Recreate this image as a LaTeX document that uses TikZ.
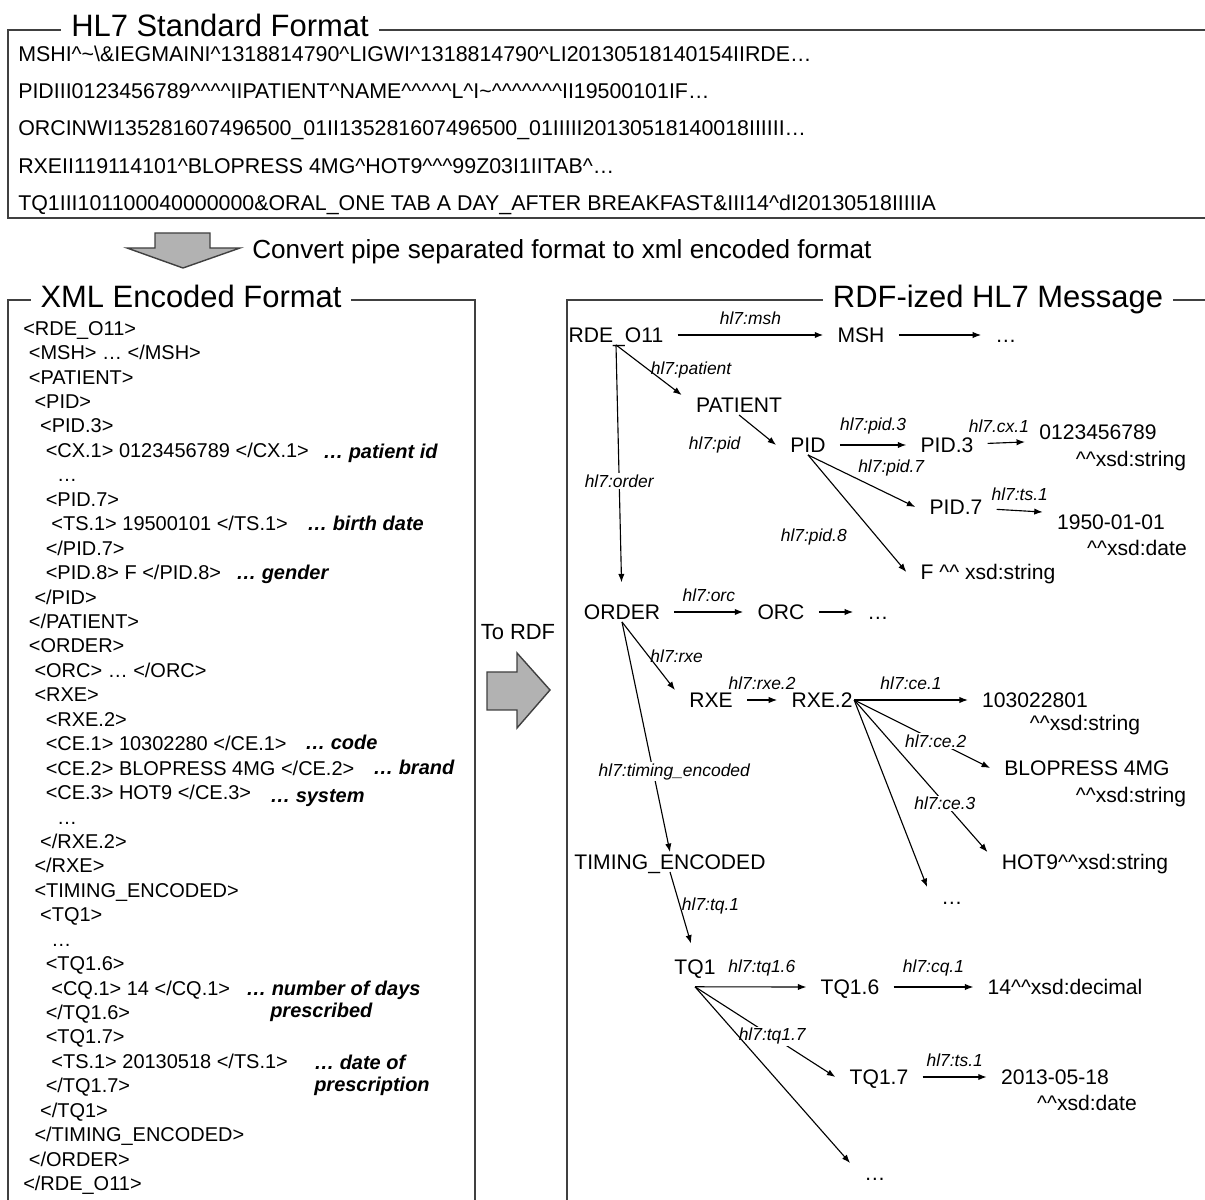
\documentclass[tikz,border=0pt]{standalone}
\usepackage{fontspec}
\setmainfont{Liberation Sans}
\usepackage{tikz}
\usetikzlibrary{arrows.meta}
\newcommand{\crt}{\textasciicircum}
\newlength{\xmlstep}
\setlength{\xmlstep}{4pt}

\begin{document}
\begin{tikzpicture}[x=0.025cm, y=-0.025cm,
  frame/.style={draw=black!75, line width=1.3pt},
  boxtitle/.style={fill=white, inner xsep=7pt, inner ysep=3pt,
                   text height=20.8pt, text depth=5pt,
                   font=\fontsize{22}{26}\selectfont},
  msgline/.style={anchor=base west, inner sep=0pt, font=\fontsize{15.2}{18}\selectfont},
  xmltext/.style={anchor=north west, inner sep=0pt, align=left,
                  font=\fontsize{14.2}{17.38}\selectfont},
  annot/.style={anchor=base west, inner sep=0pt,
                font=\fontsize{14.2}{17}\selectfont\bfseries\itshape},
  rdf/.style={inner xsep=10pt, inner ysep=1.5pt, text height=10.75pt, text depth=0pt,
              font=\fontsize{15}{17}\selectfont},
  lbl/.style={inner sep=1pt, font=\fontsize{12.4}{14}\selectfont\itshape},
  cut/.style={lbl, fill=white},
  arr/.style={-{Latex[length=6pt, width=4.5pt]}, line width=0.8pt},
  bigarr/.style={draw=black!75, fill=black!30, line width=1pt, line join=miter}
]
\useasboundingbox (0,0) rectangle (1205,1200);

% HL7 message
\draw[frame] (1205,30) -- (8,30) -- (8,218) -- (1205,218);
\node[boxtitle] (hltitle) at (220,25) {HL7 Standard Format};
\node[msgline] (msgmsh) at (18,62) {MSHI\crt\textasciitilde\textbackslash\&IEGMAINI\crt 1318814790\crt LIGWI\crt 1318814790\crt LI20130518140154IIRDE…};
\node[msgline] (msgpid) at (18,99) {PIDIII0123456789\crt\crt\crt\crt IIPATIENT\crt NAME\crt\crt\crt\crt\crt L\crt I\textasciitilde\crt\crt\crt\crt\crt\crt\crt II19500101IF…};
\node[msgline] (msgorc) at (18,136) {ORCINWI135281607496500\_01II135281607496500\_01IIIII20130518140018IIIIII…};
\node[msgline] (msgrxe) at (18,174) {RXEII119114101\crt BLOPRESS 4MG\crt HOT9\crt\crt\crt 99Z03I1IITAB\crt…};
\node[msgline] (msgtq) at (18,211) {TQ1III101100040000000\&ORAL\_ONE TAB A DAY\_AFTER BREAKFAST\&III14\crt dI20130518IIIIIA};

% pipe -> xml
\draw[bigarr] (155,233) -- (210,233) -- (210,248) -- (240,248) -- (183,268) -- (127,248) -- (155,248) -- cycle;
\node[anchor=base west, inner sep=0pt, font=\fontsize{18.6}{22}\selectfont] (convert) at (252,258.5) {Convert pipe separated format to xml encoded format};

% XML box
\draw[frame] (8,1200) -- (8,300) -- (475,300) -- (475,1200);
\node[boxtitle] (xmltitle) at (191,296) {XML Encoded Format};
\node[xmltext] (xml) at (23,321) {<RDE\_O11>\\
\hspace*{1\xmlstep}<MSH> … </MSH>\\
\hspace*{1\xmlstep}<PATIENT>\\
\hspace*{2\xmlstep}<PID>\\
\hspace*{3\xmlstep}<PID.3>\\
\hspace*{4\xmlstep}<CX.1> 0123456789 </CX.1>\\
\hspace*{6\xmlstep}…\\
\hspace*{4\xmlstep}<PID.7>\\
\hspace*{5\xmlstep}<TS.1> 19500101 </TS.1>\\
\hspace*{4\xmlstep}</PID.7>\\
\hspace*{4\xmlstep}<PID.8> F </PID.8>\\
\hspace*{2\xmlstep}</PID>\\
\hspace*{1\xmlstep}</PATIENT>\\
\hspace*{1\xmlstep}<ORDER>\\
\hspace*{2\xmlstep}<ORC> … </ORC>\\
\hspace*{2\xmlstep}<RXE>\\
\hspace*{4\xmlstep}<RXE.2>\\
\hspace*{4\xmlstep}<CE.1> 10302280 </CE.1>\\
\hspace*{4\xmlstep}<CE.2> BLOPRESS 4MG </CE.2>\\
\hspace*{4\xmlstep}<CE.3> HOT9 </CE.3>\\
\hspace*{6\xmlstep}…\\
\hspace*{3\xmlstep}</RXE.2>\\
\hspace*{2\xmlstep}</RXE>\\
\hspace*{2\xmlstep}<TIMING\_ENCODED>\\
\hspace*{3\xmlstep}<TQ1>\\
\hspace*{5\xmlstep}…\\
\hspace*{4\xmlstep}<TQ1.6>\\
\hspace*{5\xmlstep}<CQ.1> 14 </CQ.1>\\
\hspace*{4\xmlstep}</TQ1.6>\\
\hspace*{4\xmlstep}<TQ1.7>\\
\hspace*{5\xmlstep}<TS.1> 20130518 </TS.1>\\
\hspace*{4\xmlstep}</TQ1.7>\\
\hspace*{3\xmlstep}</TQ1>\\
\hspace*{2\xmlstep}</TIMING\_ENCODED>\\
\hspace*{1\xmlstep}</ORDER>\\
</RDE\_O11>};
\node[annot] (apid) at (323,459) {… patient id};
\node[annot] (abirth) at (307,531) {… birth date};
\node[annot] (agender) at (236,580) {… gender};
\node[annot] (acode) at (305,749) {… code};
\node[annot] (abrand) at (373,774) {… brand};
\node[annot] (asystem) at (270,802) {… system};
\node[annot] (adays) at (246,995) {… number of days};
\node[annot] (adaysb) at (270,1017) {prescribed};
\node[annot] (adate) at (314,1069) {… date of};
\node[annot] (adateb) at (314,1091) {prescription};

% xml -> rdf
\node[inner sep=0pt, font=\fontsize{15.6}{18}\selectfont] (tordf) at (518,632) {To RDF};
\draw[bigarr] (487,672) -- (517,672) -- (517,653) -- (550,690) -- (517,728) -- (517,710) -- (487,710) -- cycle;

% RDF box
\draw[frame] (567,1200) -- (567,300) -- (1205,300);
\node[boxtitle] (rdftitle) at (998,296) {RDF-ized HL7 Message};

\node[rdf] (rde) at (616,335) {RDE\_O11};
\node[rdf] (msh) at (861,335) {MSH};
\node[rdf] (mshmore) at (1006,335) {…};
\node[rdf] (patient) at (739,405) {PATIENT};
\node[rdf] (pid) at (808,445) {PID};
\node[rdf] (pidthree) at (947,445) {PID.3};
\node[rdf] (cx) at (1098,432) {0123456789};
\node[rdf] (cxtype) at (1131,459) {\crt\crt xsd:string};
\node[rdf] (pidseven) at (956,507) {PID.7};
\node[rdf] (bdate) at (1111,522) {1950-01-01};
\node[rdf] (bdatetype) at (1137,548) {\crt\crt xsd:date};
\node[rdf] (gender) at (988,572) {F \crt\crt\ xsd:string};
\node[rdf] (order) at (622,612) {ORDER};
\node[rdf] (orc) at (781,612) {ORC};
\node[rdf] (orcmore) at (878,612) {…};
\node[rdf] (rxe) at (711,700) {RXE};
\node[rdf] (rxetwo) at (822,700) {RXE.2};
\node[rdf] (code) at (1035,700) {103022801};
\node[rdf] (codetype) at (1085,723) {\crt\crt xsd:string};
\node[rdf] (brand) at (1087,768) {BLOPRESS 4MG};
\node[rdf] (brandtype) at (1131,795) {\crt\crt xsd:string};
\node[rdf] (system) at (1085,862) {HOT9\crt\crt xsd:string};
\node[rdf] (cemore) at (952,897) {…};
\node[rdf] (timing) at (670,862) {TIMING\_ENCODED};
\node[rdf] (tq) at (695,967) {TQ1};
\node[rdf] (tqsix) at (850,987) {TQ1.6};
\node[rdf] (days) at (1065,987) {14\crt\crt xsd:decimal};
\node[rdf] (tqseven) at (879,1077) {TQ1.7};
\node[rdf] (pdate) at (1055,1077) {2013-05-18};
\node[rdf] (pdatetype) at (1087,1103) {\crt\crt xsd:date};
\node[rdf] (tqmore) at (875,1173) {…};

% message and patient
\draw[arr] (rde) -- node[lbl, above=6pt] {hl7:msh} (msh);
\draw[arr] (msh) -- (mshmore);
\draw[arr] (rde.south) -- node[lbl, right, pos=0.5] {hl7:patient} (patient.north west);
\draw[arr, shorten >=14pt] (rde.south) -- node[cut, pos=0.53] {hl7:order} (order.north);
\draw[arr] (patient.south) -- node[lbl, left=24pt, pos=1] {hl7:pid} (pid.west);
\draw[arr] (pid) -- node[lbl, above=6pt] {hl7:pid.3} (pidthree);
\draw[arr] (pidthree) -- node[lbl, above=6pt, pos=0.3] {hl7.cx.1} (cx.south west);
\draw[arr] (pid.south) -- node[lbl, above right, pos=0.45] {hl7:pid.7} (pidseven.west);
\draw[arr] (pidseven) -- node[lbl, above=6pt] {hl7:ts.1} (bdate.north west);
\draw[arr] (pid.south) -- node[lbl, left=20pt, pos=0.7] {hl7:pid.8} (gender.west);

% order
\draw[arr] (order) -- node[lbl, above=6pt] {hl7:orc} (orc);
\draw[arr] (orc) -- (orcmore);
\draw[arr] (order.south) -- node[lbl, right, pos=0.5] {hl7:rxe} (rxe.north west);
\draw[arr] (rxe) -- node[lbl, above=6pt] {hl7:rxe.2} (rxetwo);
\draw[arr] ([xshift=-9pt]rxetwo.east) -- node[lbl, above=6pt] {hl7:ce.1} (code.west);
\draw[arr] ([xshift=-9pt]rxetwo.east) -- node[cut, pos=0.6] {hl7:ce.2} (brand.west);
\draw[arr] ([xshift=-9pt]rxetwo.east) -- node[cut, pos=0.68] {hl7:ce.3} (system.north west);
\draw[arr] ([xshift=-9pt]rxetwo.east) -- (cemore.north west);
\draw[arr] (order.south) -- node[cut, pos=0.65, xshift=15pt] {hl7:timing\_encoded} (timing.north);

% timing
\draw[arr, shorten >=10pt] (timing.south) -- node[lbl, right, pos=0.4] {hl7:tq.1} (tq.north);
\draw[arr] ([yshift=-7pt]tq.south) -- node[lbl, above=6pt, pos=0.6] {hl7:tq1.6} (tqsix.west);
\draw[arr] (tqsix) -- node[lbl, above=6pt] {hl7:cq.1} (days);
\draw[arr] ([yshift=-7pt]tq.south) -- node[cut, pos=0.55] {hl7:tq1.7} (tqseven.west);
\draw[arr] (tqseven) -- node[lbl, above=6pt] {hl7:ts.1} (pdate);
\draw[arr] ([yshift=-7pt]tq.south) -- (tqmore.north west);
\end{tikzpicture}
\end{document}
